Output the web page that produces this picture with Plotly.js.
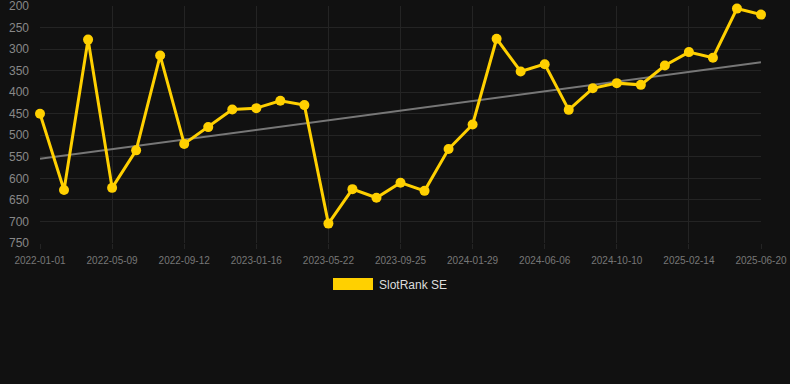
<!DOCTYPE html>
<html>
<head>
<meta charset="utf-8">
<script src="https://cdn.plot.ly/plotly-3.0.1.min.js"></script>
<style>
html,body{margin:0;padding:0;background:#111111;}
#chart{width:790px;height:384px;}
</style>
</head>
<body>
<div id="chart"></div>
<script>
const dates = [
  "2022-01-01","2022-02-12","2022-03-26","2022-05-09","2022-06-20","2022-08-01",
  "2022-09-12","2022-10-24","2022-12-05","2023-01-16","2023-02-27","2023-04-10",
  "2023-05-22","2023-07-03","2023-08-14","2023-09-25","2023-11-06","2023-12-18",
  "2024-01-29","2024-03-11","2024-04-22","2024-06-06","2024-07-18","2024-08-29",
  "2024-10-10","2024-11-21","2025-01-02","2025-02-14","2025-03-28","2025-05-09",
  "2025-06-20"
];
const rank = [
  450, 627, 278, 622, 535, 315, 520, 481, 440, 437, 420,
  430, 705, 625, 645, 610, 629, 532, 475, 276, 352,
  335, 441, 391, 379, 383, 338, 307, 320, 206, 220
];
const tickLabels = dates.filter((d, i) => i % 3 === 0);
const yTicks = [200,250,300,350,400,450,500,550,600,650,700,750];
const seriesName = "SlotRank SE";

// linear regression trend over index positions
const n = rank.length;
const idx = rank.map((_, i) => i);
const mx = idx.reduce((a, b) => a + b, 0) / n;
const my = rank.reduce((a, b) => a + b, 0) / n;
let sxy = 0, sxx = 0;
for (let i = 0; i < n; i++) { sxy += (i - mx) * (rank[i] - my); sxx += (i - mx) * (i - mx); }
const slope = sxy / sxx;
const icpt = my - slope * mx;
const trend = idx.map(i => icpt + slope * i);

const gold = "#FFD000";
const gridC = "#242424";

const traces = [
  {
    x: dates, y: trend, type: "scatter", mode: "lines",
    line: {color: "#777777", width: 2}, hoverinfo: "skip", showlegend: false,
    cliponaxis: false
  },
  {
    x: dates, y: rank, type: "scatter", mode: "lines+markers", name: seriesName,
    line: {color: gold, width: 3}, marker: {color: gold, size: 10},
    showlegend: false, cliponaxis: false
  }
];

const layout = {
  width: 790, height: 384,
  paper_bgcolor: "#111111", plot_bgcolor: "#111111",
  margin: {l: 40, r: 29, t: 6, b: 141},
  font: {family: "Liberation Sans, Arial, sans-serif", color: "#888888"},
  showlegend: false,
  xaxis: {
    type: "category", range: [0, n - 1],
    tickvals: tickLabels, ticktext: tickLabels,
    tickfont: {size: 10, color: "#777777"},
    showgrid: true, gridcolor: gridC, gridwidth: 1,
    ticks: "outside", ticklen: 5, tickcolor: gridC,
    ticklabelstandoff: 3,
    zeroline: false, showline: false, fixedrange: true
  },
  yaxis: {
    range: [750, 200], tickvals: yTicks,
    tickfont: {size: 12, color: "#888888"},
    showgrid: true, gridcolor: gridC, gridwidth: 1,
    ticklabeloverflow: "allow",
    zeroline: false, showline: false, ticklen: 0, ticklabelstandoff: 10
  },
  shapes: [
    {type: "rect", xref: "paper", yref: "paper",
     x0: (333 - 40) / 721, x1: (373 - 40) / 721,
     y0: (384 - 141 - 290) / 237, y1: (384 - 141 - 278) / 237,
     fillcolor: gold, line: {width: 0}}
  ],
  annotations: [
    {text: seriesName, xref: "paper", yref: "paper",
     x: (377 - 40) / 721, y: (384 - 141 - 285) / 237,
     xanchor: "left", yanchor: "middle", showarrow: false,
     font: {size: 12, color: "#dddddd"}}
  ]
};

Plotly.newPlot("chart", traces, layout, {displayModeBar: false, staticPlot: true});
</script>
</body>
</html>
